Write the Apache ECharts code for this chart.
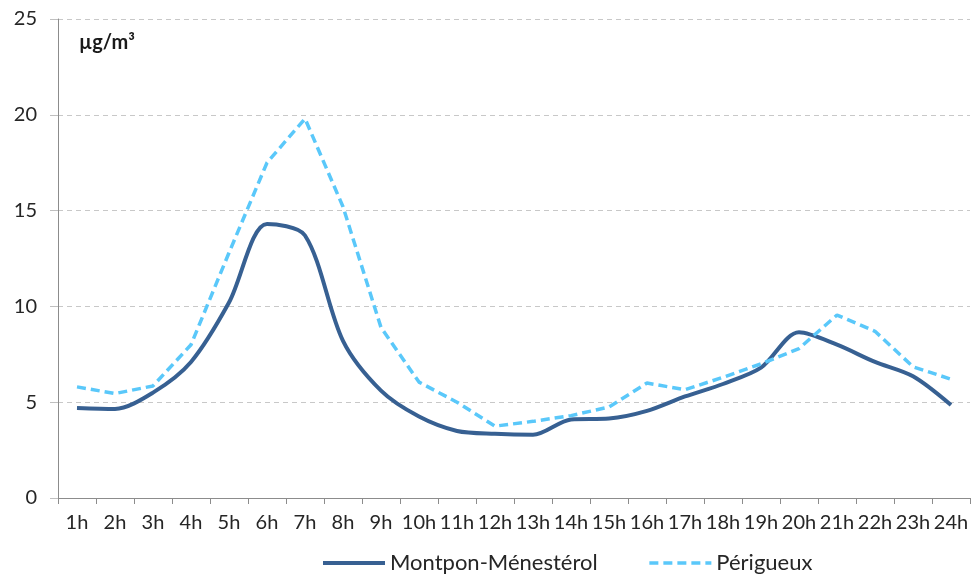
<!DOCTYPE html>
<html>
<head>
<meta charset="utf-8">
<script src="https://cdn.jsdelivr.net/npm/echarts@6/dist/echarts.min.js"></script>
<style>
html,body{margin:0;padding:0;background:#fff;}
#chart{width:972px;height:579px;}
</style>
</head>
<body>
<div id="chart"></div>
<script>
var categories = ['1h','2h','3h','4h','5h','6h','7h','8h','9h','10h','11h','12h','13h','14h','15h','16h','17h','18h','19h','20h','21h','22h','23h','24h'];
var montpon = [4.7,4.65,5.5,7.1,10.2,14.3,13.7,8.2,5.6,4.25,3.5,3.35,3.3,4.1,4.15,4.55,5.3,5.95,6.8,8.65,8.0,7.1,6.35,4.85];
var perigueux = [5.8,5.45,5.85,8.0,12.8,17.5,19.8,15.2,8.9,6.05,5.0,3.75,4.0,4.3,4.75,6.0,5.65,6.3,7.0,7.8,9.55,8.7,6.85,6.2];
var yTicks = {min:0, max:25, interval:5};
var unitLabel = 'µg/m³';

var FONT = 'Lato';
var chart = echarts.init(document.getElementById('chart'), null, {renderer:'canvas'});
chart.setOption({
  animation:false,
  backgroundColor:'#ffffff',
  textStyle:{fontFamily:FONT},
  grid:{left:58, right:2, top:19, bottom:81, containLabel:false},
  graphic:[{
    type:'text', left:79, top:33,
    style:{text:unitLabel, font:'bold 20px '+FONT, fill:'#1a1a1a'}
  }],
  legend:{
    bottom:0, left:316,
    itemWidth:62, itemHeight:12, itemGap:50,
    itemStyle:{opacity:0},
    textStyle:{fontFamily:FONT, fontSize:22, color:'#262626'},
    data:[
      {name:'Montpon-Ménestérol', lineStyle:{width:4, color:'#376092', type:'solid'}},
      {name:'Périgueux', lineStyle:{width:3.5, color:'#5AC8FA', type:[9,5]}}
    ]
  },
  xAxis:{
    type:'category', data:categories, boundaryGap:true,
    axisLine:{lineStyle:{color:'#8c8c8c', width:1}},
    axisTick:{show:true, length:6, alignWithLabel:false, lineStyle:{color:'#8c8c8c'}},
    axisLabel:{color:'#262626', fontSize:20, margin:15, interval:0, fontFamily:FONT}
  },
  yAxis:{
    type:'value', min:yTicks.min, max:yTicks.max, interval:yTicks.interval,
    axisLine:{show:true, lineStyle:{color:'#8c8c8c', width:1}},
    axisTick:{show:true, inside:false, length:8, lineStyle:{color:'#bfbfbf'}},
    axisLabel:{color:'#262626', fontSize:20, margin:21, fontFamily:FONT},
    splitLine:{show:true, lineStyle:{color:'#c8c8c8', type:[5,4], width:1}}
  },
  series:[
    {
      name:'Montpon-Ménestérol', type:'line', data:montpon,
      smooth:0.3, symbol:'none', showSymbol:false,
      lineStyle:{color:'#376092', width:4},
      itemStyle:{color:'#376092'}
    },
    {
      name:'Périgueux', type:'line', data:perigueux,
      smooth:false, symbol:'none', showSymbol:false,
      lineStyle:{color:'#5AC8FA', width:3.5, type:[9,5]},
      itemStyle:{color:'#5AC8FA'}
    }
  ]
});
</script>
</body>
</html>
